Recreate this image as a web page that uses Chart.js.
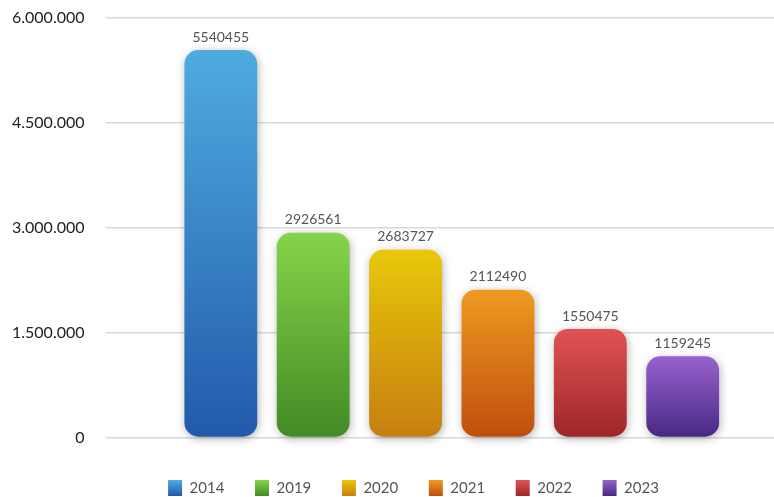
<!DOCTYPE html>
<html>
<head>
<meta charset="utf-8">
<script src="https://cdn.jsdelivr.net/npm/chart.js@4/dist/chart.umd.min.js"></script>
<style>
  html, body { margin: 0; padding: 0; background: #fff; }
  #wrap { width: 774px; height: 497px; }
</style>
</head>
<body>
<div id="wrap"><canvas id="barChart"></canvas></div>
<script>
const years = ['2014', '2019', '2020', '2021', '2022', '2023'];
const totals = [5540455, 2926561, 2683727, 2112490, 1550475, 1159245];
const yTicks = [0, 1500000, 3000000, 4500000, 6000000];
const topColors = ['#4facdf', '#86d44a', '#e8c80a', '#ee9a22', '#e15352', '#9762ce'];
const bottomColors = ['#2259ab', '#428a24', '#c67e10', '#c04e0c', '#9e2629', '#482884'];

const legendShift = 31;

function dots(v) {
    return String(v).replace(/\B(?=(\d{3})+(?!\d))/g, '.');
}

function barFill(i) {
    return function (ctx) {
        const chart = ctx.chart;
        const y = chart.scales.y;
        if (!chart.chartArea || !y) return bottomColors[i];
        const top = y.getPixelForValue(totals[i]);
        const bottom = y.getPixelForValue(0);
        const g = chart.ctx.createLinearGradient(0, top, 0, bottom);
        g.addColorStop(0, topColors[i]);
        g.addColorStop(1, bottomColors[i]);
        return g;
    };
}

const barShadow = {
    id: 'barShadow',
    beforeDraw(chart) {
        const legend = chart.legend;
        legend.left += legendShift;
        legend.right += legendShift;
        legend.legendItems.forEach((item, i) => {
            const box = legend.legendHitBoxes[i];
            const g = chart.ctx.createLinearGradient(0, box.top, 0, box.top + box.height);
            g.addColorStop(0, topColors[i]);
            g.addColorStop(1, bottomColors[i]);
            item.fillStyle = g;
        });
    },
    afterDraw(chart) {
        chart.legend.left -= legendShift;
        chart.legend.right -= legendShift;
    },
    beforeDatasetsDraw(chart) {
        const c = chart.ctx;
        c.save();
        c.shadowColor = 'rgba(0, 0, 0, 0.3)';
        c.shadowBlur = 9;
        c.shadowOffsetX = 1;
        c.shadowOffsetY = 2;
    },
    afterDatasetsDraw(chart) {
        const c = chart.ctx;
        c.restore();
        c.save();
        c.font = '14px Lato';
        c.fillStyle = '#555555';
        c.textAlign = 'center';
        c.textBaseline = 'middle';
        chart.data.datasets.forEach((ds, i) => {
            const bar = chart.getDatasetMeta(i).data[0];
            c.fillText(String(ds.data[0]), bar.x, bar.y - 13);
        });
        c.restore();
    }
};

const ctxBar = document.getElementById('barChart').getContext('2d');
const barChart = new Chart(ctxBar, {
    type: 'bar',
    data: {
        labels: [''],
        datasets: years.map((yr, i) => ({
            label: yr,
            data: [totals[i]],
            backgroundColor: barFill(i),
            borderRadius: 14,
            borderSkipped: false,
            borderWidth: 0,
            clip: false,
            categoryPercentage: 0.86,
            barPercentage: 0.788
        }))
    },
    options: {
        responsive: true,
        maintainAspectRatio: false,
        animation: false,
        layout: {
            padding: { top: 18, left: -9, right: 0, bottom: -9 }
        },
        plugins: {
            legend: {
                position: 'bottom',
                labels: {
                    boxWidth: 14,
                    boxHeight: 16,
                    padding: 30.6,
                    color: '#555555',
                    font: { family: 'Lato', size: 15 }
                }
            },
            tooltip: { enabled: false }
        },
        scales: {
            x: {
                grid: { display: false, drawTicks: true, tickLength: 12 },
                border: { display: false },
                ticks: { display: false }
            },
            y: {
                min: 0,
                max: 6000000,
                afterBuildTicks: (axis) => {
                    axis.ticks = yTicks.map(v => ({ value: v }));
                },
                afterFit: (axis) => {
                    axis.paddingTop = 0;
                    axis.paddingBottom = 0;
                },
                grid: {
                    color: '#d9d9d9',
                    lineWidth: 1.5,
                    drawTicks: true,
                    tickLength: 24,
                    tickColor: '#d9d9d9'
                },
                border: { display: false },
                ticks: {
                    padding: 21,
                    color: '#222222',
                    font: { family: 'Lato', size: 16 },
                    callback: (v) => dots(v)
                }
            }
        }
    },
    plugins: [barShadow]
});
</script>
</body>
</html>
